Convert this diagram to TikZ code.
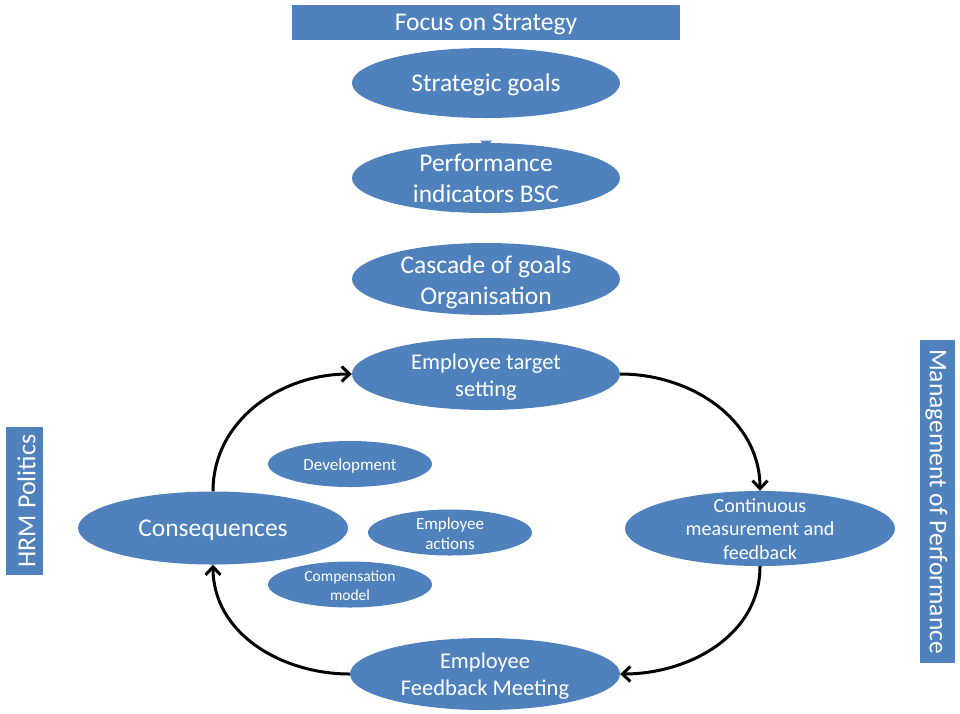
\documentclass[tikz,border=0pt]{standalone}
\usepackage{fontspec}
\setmainfont{Carlito}
\usetikzlibrary{arrows.meta,shapes.geometric}
\definecolor{obox}{HTML}{4F81BD}
\tikzset{
  oval/.style={ellipse, fill=obox, inner sep=0pt},
  bigoval/.style={oval, minimum width=268pt, minimum height=72pt},
  smalloval/.style={oval, minimum width=164pt, minimum height=46pt},
  banner/.style={rectangle, fill=obox, text=white, inner sep=0pt, align=center},
  txt/.style={text=white, inner sep=0pt, align=center},
  flow/.style={line width=3pt, -{Straight Barb[length=8pt,width=15pt]}},
  bigtxt/.style={font=\fontsize{25.5}{31}\selectfont},
  midtxt/.style={font=\fontsize{22.5}{27}\selectfont},
  medtxt/.style={font=\fontsize{20}{23.5}\selectfont},
  smltxt/.style={font=\fontsize{17}{20}\selectfont},
}
\begin{document}
\begin{tikzpicture}[x=1pt,y=-1pt]
\useasboundingbox (0,0) rectangle (960,713);
% banners
\node[banner, minimum width=388pt, minimum height=35pt] (focus) at (486,22.5) {};
\node[txt, bigtxt] (focus-t) at ([yshift=-2pt]focus.center) {Focus on Strategy};
\node[banner, minimum width=148pt, minimum height=37pt, rotate=90] (hrm) at (24.5,501) {};
\node[txt, font=\fontsize{26}{31}\selectfont, rotate=90] (hrm-t) at ([xshift=2pt]hrm.center) {HRM Politics};
\node[banner, minimum width=323pt, minimum height=35pt, rotate=-90] (mop) at (937.5,501.5) {};
\node[txt, bigtxt, rotate=-90] (mop-t) at ([xshift=-1pt]mop.center) {Management of Performance};
% ovals
\node[bigoval, minimum height=70pt] (sg) at (486,83) {};
\node[txt, bigtxt] (sg-t) at ([yshift=-2pt]sg.center) {Strategic goals};
\node[bigoval, minimum height=70pt] (pi) at (486,178) {};
\fill[obox] (480,140.5) -- (492,140.5) -- (486,148) -- cycle;
\node[txt, bigtxt] (pi-t) at (pi.center) {Performance\\indicators BSC};
\node[bigoval] (cg) at (486,279) {};
\node[txt, bigtxt] (cg-t) at ([yshift=-3pt]cg.center) {Cascade of goals\\Organisation};
\node[bigoval] (ets) at (486,374) {};
\node[txt, midtxt] (ets-t) at ([yshift=-3pt]ets.center) {Employee target\\setting};
\node[oval, minimum width=270pt, minimum height=73pt] (cons) at (213,528) {};
\node[txt, bigtxt] (cons-t) at ([yshift=-2pt]cons.center) {Consequences};
\node[oval, minimum width=270pt, minimum height=75pt] (cmf) at (760,528.5) {};
\node[txt, medtxt] (cmf-t) at ([yshift=-0.5pt]cmf.center) {Continuous\\measurement and\\feedback};
\node[oval, minimum width=270pt, minimum height=72pt] (efm) at (485,674) {};
\node[txt, midtxt] (efm-t) at ([yshift=-2pt]efm.center) {Employee\\Feedback Meeting};
\node[smalloval] (dev) at (350,464) {};
\node[txt, smltxt] (dev-t) at ([yshift=-2pt]dev.center) {Development};
\node[smalloval] (ea) at (450,532.5) {};
\node[txt, smltxt] (ea-t) at ([yshift=-1pt]ea.center) {Employee\\actions};
\node[smalloval] (cm) at (350,584.5) {};
\node[txt, font=\fontsize{15.5}{19}\selectfont] (cm-t) at ([yshift=-1pt]cm.center) {Compensation\\model};
% cycle
\draw[flow] (cons.north) to[out=90,in=180] (ets.west);
\draw[flow] (ets.east) to[out=0,in=90] (cmf.north);
\draw[flow] (cmf.south) to[out=-90,in=0] (efm.east);
\draw[flow] (efm.west) to[out=180,in=-90] (cons.south);
\end{tikzpicture}
\end{document}
